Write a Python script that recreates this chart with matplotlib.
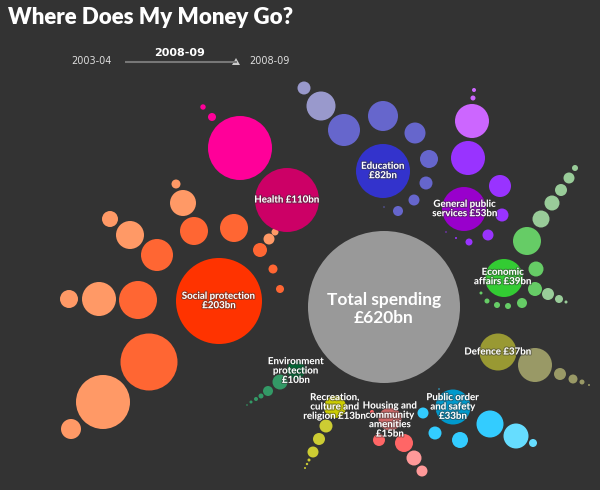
import matplotlib
matplotlib.use("Agg")
import matplotlib.pyplot as plt
from matplotlib.patches import Circle, Polygon
import matplotlib.patheffects as pe

BG = "#333333"

# bubbles per group: x, y, radius (pixels in the 600x490 layout), colour
total = ([384], [307], [76], ["#999999"])

social = ([219, 176, 183, 110, 130, 157, 194, 234, 260, 269, 275, 273, 280,
           69, 99, 138, 149, 103, 71],
          [301, 184, 203, 219, 235, 255, 231, 228, 250, 239, 232, 269, 289,
           299, 299, 300, 362, 402, 429],
          [43, 4.5, 13, 8, 14, 16, 14, 14, 7, 5.5, 3.5, 4.5, 4,
           9, 17, 19, 28.5, 27, 10],
          ["#FF3300", "#FF9966", "#FF9966", "#FF9966", "#FF9966", "#FF6633",
           "#FF6633", "#FF6633", "#FF6633", "#FF9966", "#FF9966", "#FF6633",
           "#FF6633", "#FF9966", "#FF9966", "#FF6633", "#FF6633", "#FF9966",
           "#FF9966"])

health = ([287, 240, 212, 203],
          [200, 148, 117, 107],
          [32, 32, 4, 2.7],
          ["#CC0066", "#FF0099", "#FF0099", "#FF0099"])

education = ([383, 304, 321, 344, 383, 415, 429, 426, 414, 398, 384],
             [171, 88, 106, 130, 116, 133, 159, 183, 200, 211, 207],
             [27, 6.5, 14.5, 16, 15, 10.5, 9, 6.5, 5.5, 5, 0.7],
             ["#3333CC", "#9999CC", "#9999CC", "#6666CC", "#6666CC", "#6666CC",
              "#6666CC", "#6666CC", "#6666CC", "#6666CC", "#6666CC"])

general = ([464, 472, 468, 500, 502, 488, 469, 473, 474, 446, 456],
           [209, 121, 158, 186, 215, 235, 242, 98, 90, 232, 238],
           [22, 17, 17, 11, 6.5, 5.5, 3.5, 2.5, 2, 0.7, 1],
           ["#9900CC", "#CC66FF", "#9933FF", "#9933FF", "#9933FF", "#9933FF",
            "#9933FF", "#CC66FF", "#CC66FF", "#9933FF", "#9933FF"])

economic = ([504, 575, 569, 561, 552, 541, 527, 536, 535, 548, 559, 566,
             522, 508, 497, 487, 481],
            [278, 168, 178, 190, 203, 219, 241, 269, 289, 294, 299, 302,
             303, 306, 305, 301, 293],
            [19, 3, 5.5, 6, 7.5, 8.5, 14, 7.5, 7, 6, 4, 1.5,
             5, 3, 3, 2.5, 1.5],
            ["#33CC33", "#99CC99", "#99CC99", "#99CC99", "#99CC99", "#99CC99",
             "#66CC66", "#66CC66", "#66CC66", "#99CC99", "#99CC99", "#99CC99",
             "#66CC66", "#66CC66", "#66CC66", "#66CC66", "#66CC66"])

defence = ([498, 535, 560, 573, 582, 589],
           [352, 365, 374, 379, 382, 385],
           [18.5, 17, 6, 4.5, 2.5, 1],
           ["#999933", "#999966", "#999966", "#999966", "#999966", "#999966"])

public_order = ([453, 490, 516, 533, 423, 435, 460, 439],
                [407, 424, 436, 443, 413, 433, 440, 389],
                [17.5, 13.5, 12.5, 4, 5.5, 6.5, 8, 0.7],
                ["#0099CC", "#33CCFF", "#66DDFF", "#66DDFF", "#33CCFF",
                 "#33CCFF", "#33CCFF", "#33CCFF"])

housing = ([390, 379, 404, 414, 422, 372],
           [419, 440, 443, 458, 471, 412],
           [11.5, 6, 9, 7.5, 5.5, 2],
           ["#CC6666", "#FF6666", "#FF6666", "#FF9999", "#FF9999", "#FF6666"])

recreation = ([335, 326, 319, 313, 309, 307, 305],
              [407, 426, 439, 452, 460, 464, 468],
              [11, 6.5, 6, 5.5, 1.5, 1.2, 1],
              ["#CCCC00", "#CCCC33", "#CCCC33", "#CCCC33", "#CCCC33",
               "#CCCC33", "#CCCC33"])

environment = ([296, 280, 268, 261, 256, 251, 247],
               [370, 382, 391, 396, 399, 402, 405],
               [9, 7.5, 5, 2.5, 2, 1.5, 0.8],
               ["#006633", "#339966", "#339966", "#339966", "#339966",
                "#339966", "#339966"])

groups = [social, health, education, general, economic, defence,
          public_order, housing, recreation, environment, total]

# labels: text, x, y (centre of label block)
labels = [
    ("Social protection\n£203bn", 219, 301),
    ("Health £110bn", 287, 200),
    ("Education\n£82bn", 383, 171),
    ("General public\nservices £53bn", 465, 209),
    ("Economic\naffairs £39bn", 503, 277),
    ("Defence £37bn", 498, 352),
    ("Public order\nand safety\n£33bn", 453, 407),
    ("Housing and\ncommunity\namenities\n£15bn", 390, 420),
    ("Recreation,\nculture and\nreligion £13bn", 335, 407),
    ("Environment\nprotection\n£10bn", 296, 371),
]
total_label = "Total spending\n£620bn"

years = ["2003-04", "2008-09"]
current_year = "2008-09"

fig = plt.figure(figsize=(6, 4.9), dpi=100, facecolor=BG)
ax = fig.add_axes([0, 0, 1, 1])
ax.set_facecolor(BG)
ax.set_xlim(0, 600)
ax.set_ylim(490, 0)
ax.set_aspect("equal")
ax.axis("off")

for xs, ys, rs, cs in groups:
    for x, y, r, c in zip(xs, ys, rs, cs):
        ax.add_patch(Circle((x, y), r, facecolor=c, edgecolor="none"))

outline = [pe.withStroke(linewidth=1.5, foreground="#333333", alpha=0.5)]
for txt, x, y in labels:
    ax.text(x, y, txt, ha="center", va="center", color="white",
            fontsize=7, fontweight="bold", family="Lato",
            linespacing=1.05, path_effects=outline)
ax.text(384, 309, total_label, ha="center", va="center", color="white",
        fontsize=12.5, fontweight="bold", family="Lato", linespacing=1.2)

# title and year slider
ax.text(8, 17, "Where Does My Money Go?", ha="left", va="center",
        color="white", fontsize=16, fontweight="heavy", family="Lato")
ax.text(91, 61, years[0], ha="center", va="center", color="#dddddd",
        fontsize=7, family="DejaVu Sans")
ax.text(269, 61, years[1], ha="center", va="center", color="#dddddd",
        fontsize=7, family="DejaVu Sans")
ax.text(180, 53, current_year, ha="center", va="center", color="white",
        fontsize=8, fontweight="bold", family="DejaVu Sans")
ax.plot([125, 237], [62, 62], color="#777777", lw=1.5, solid_capstyle="butt")
ax.add_patch(Polygon([[232, 65], [240, 65], [236, 58]], closed=True,
                     facecolor="#cccccc", edgecolor="none"))

fig.savefig("out.png", dpi=100, facecolor=BG)
